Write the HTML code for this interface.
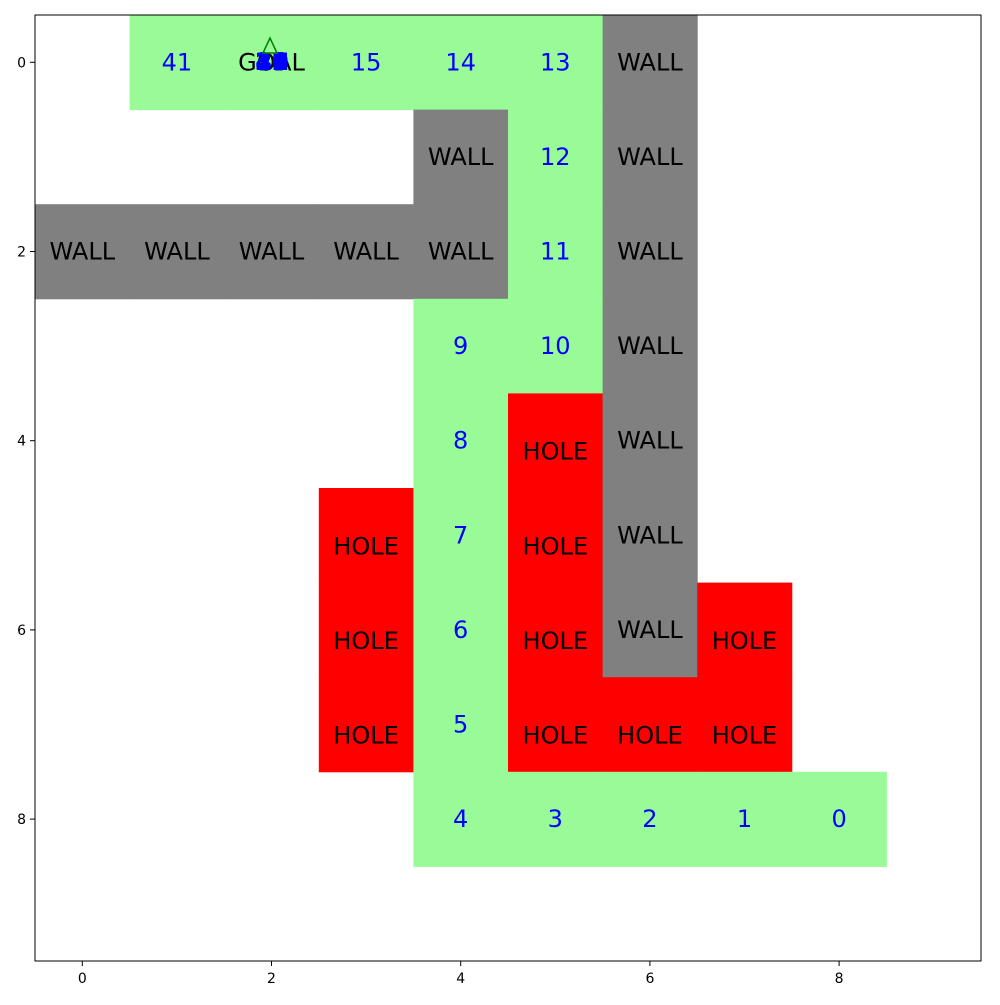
<!DOCTYPE html>
<html><head><meta charset="utf-8"><style>
body{margin:0;background:#fff}
svg text{font-family:"DejaVu Sans","Liberation Sans",sans-serif}
</style></head><body>
<svg id="c" width="1000" height="1000" xmlns="http://www.w3.org/2000/svg"></svg>
<script>
const rows=[0,0,0,0,0,0, 1,1,1, 2,2,2,2,2,2,2, 3,3,3, 4,4,4, 5,5,5,5, 6,6,6,6,6, 7,7,7,7,7, 8,8,8,8,8];
const cols=[1,2,3,4,5,6, 4,5,6, 0,1,2,3,4,5,6, 4,5,6, 4,5,6, 3,4,5,6, 3,4,5,6,7, 3,4,5,6,7, 4,5,6,7,8];
const kinds=['p','p','p','p','p','w', 'w','p','w', 'w','w','w','w','w','p','w', 'p','p','w', 'p','h','w', 'h','p','h','w', 'h','p','h','w','h', 'h','p','h','h','h', 'p','p','p','p','p'];
const labels=['41','GOAL','15','14','13','WALL', 'WALL','12','WALL', 'WALL','WALL','WALL','WALL','WALL','11','WALL', '9','10','WALL', '8','HOLE','WALL', 'HOLE','7','HOLE','WALL', 'HOLE','6','HOLE','WALL','HOLE', 'HOLE','5','HOLE','HOLE','HOLE', '4','3','2','1','0'];
const xTicks=[0,2,4,6,8];
const yTicks=[0,2,4,6,8];
const goalStack=['16','17','18','19','20','21','22','23','24','25','26','27','28','29','30','31','32','33','34','35','36','37','38','39','40'];
const X0=35,X1=981,Y0=15,Y1=961;
const sx=v=>X0+(v+0.5)*(X1-X0)/10;
const sy=v=>Y0+(v+0.5)*(Y1-Y0)/10;
const cw=(X1-X0)/10;
const svg=document.getElementById('c');
const NS='http://www.w3.org/2000/svg';
function mk(t,a){const e=document.createElementNS(NS,t);for(const k in a)e.setAttribute(k,a[k]);svg.appendChild(e);return e;}
const fill={p:'#98fb98',w:'#808080',h:'#ff0000'};
for(let i=0;i<rows.length;i++){
  const r=mk('rect',{x:sx(cols[i]-0.5),y:sy(rows[i]-0.5),width:cw+0.5,height:cw+0.5,fill:fill[kinds[i]]});
  
  
}
for(let i=0;i<rows.length;i++){
  const isNum=/^\d+$/.test(labels[i]);
  const dy=labels[i]==='HOLE'?11:0;
  const t=mk('text',{x:sx(cols[i]),y:sy(rows[i])+dy+8,'text-anchor':'middle','font-size':'24',fill:isNum?'#0000ff':'#000'});
  t.textContent=labels[i];
  
  
}
for(const s of goalStack){
  const t=mk('text',{x:272,y:70,'text-anchor':'middle','font-size':'24','font-weight':'bold',fill:'#0000ff'});
  t.textContent=s;
  
  
}
const tri=mk('polygon',{points:'270,38 263,53 277,53',fill:'none',stroke:'#008000','stroke-width':'1.5'});


const fr=mk('rect',{x:X0,y:Y0,width:X1-X0,height:Y1-Y0,fill:'none',stroke:'#000','stroke-width':'1'});


for(const v of xTicks){
  const l=mk('line',{x1:sx(v),x2:sx(v),y1:Y1,y2:Y1+5,stroke:'#000'});
  
  
  const t=mk('text',{x:sx(v),y:Y1+22,'text-anchor':'middle','font-size':'14'});
  t.textContent=v;
  
  
}
for(const v of yTicks){
  const l=mk('line',{x1:X0-5,x2:X0,y1:sy(v),y2:sy(v),stroke:'#000'});
  
  
  const t=mk('text',{x:X0-9,y:sy(v)+5,'text-anchor':'end','font-size':'14'});
  t.textContent=v;
  
  
}
</script>
</body></html>
